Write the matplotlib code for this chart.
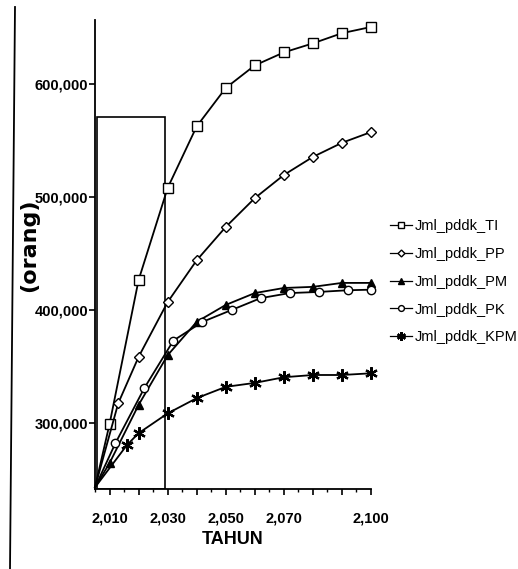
import matplotlib
matplotlib.use("Agg")
import matplotlib.pyplot as plt
from matplotlib import font_manager
from matplotlib.patches import Rectangle
from matplotlib.lines import Line2D
from matplotlib.ticker import FuncFormatter, MultipleLocator

# pick a narrow face if it is there, the scan uses tall condensed text
names = {f.name for f in font_manager.fontManager.ttflist}
NARROW = 'Liberation Sans Narrow' if 'Liberation Sans Narrow' in names else 'Liberation Sans'

# data (markers of each series sit at slightly offset years)
years_ti = [2005, 2010, 2020, 2030, 2040, 2050, 2060, 2070, 2080, 2090, 2100]
jml_ti = [243000, 299000, 426500, 508000, 562500, 596500, 616500, 628000, 636000, 645000, 650500]

years_pp = [2005, 2013, 2020, 2030, 2040, 2050, 2060, 2070, 2080, 2090, 2100]
jml_pp = [243000, 317500, 358500, 407000, 444000, 473500, 499000, 519500, 535500, 548000, 557500]

years_pm = [2005, 2010, 2020, 2030, 2040, 2050, 2060, 2070, 2080, 2090, 2100]
jml_pm = [243000, 264500, 316000, 360000, 389500, 404500, 415000, 419500, 420500, 424000, 424000]

years_pk = [2005, 2012, 2022, 2032, 2042, 2052, 2062, 2072, 2082, 2092, 2100]
jml_pk = [243000, 282000, 331000, 373000, 389500, 400000, 410500, 415000, 416000, 417500, 418000]

years_kpm = [2005, 2016, 2020, 2030, 2040, 2050, 2060, 2070, 2080, 2090, 2100]
jml_kpm = [243000, 280500, 291000, 308500, 322000, 332000, 335500, 340500, 342500, 342500, 344000]

labels = ['Jml_pddk_TI', 'Jml_pddk_PP', 'Jml_pddk_PM', 'Jml_pddk_PK', 'Jml_pddk_KPM']
xtick_labels = [2010, 2030, 2050, 2070, 2100]
yticks = [300000, 400000, 500000, 600000]

# hand drawn box on the scanned page (year range and top value)
box_x = (2005.6, 2029.2)
box_top = 570800

fig = plt.figure(figsize=(5.18, 5.69), dpi=100)
ax = fig.add_axes([0.1834, 0.1406, 0.5328, 0.8243])

styles = [
    dict(marker='s', ms=7, mfc='white'),
    dict(marker='D', ms=5, mfc='white'),
    dict(marker='^', ms=6, mfc='black'),
    dict(marker='o', ms=6, mfc='white'),
    dict(marker=(6, 2, 0), ms=9, mew=1.6),
]
all_years = [years_ti, years_pp, years_pm, years_pk, years_kpm]
all_vals = [jml_ti, jml_pp, jml_pm, jml_pk, jml_kpm]

handles = []
for xs, ys, style, lab in zip(all_years, all_vals, styles, labels):
    ax.plot(xs, ys, color='black', lw=1.3, mec='black',
            markevery=list(range(1, len(xs))), clip_on=False, **style)
    small = dict(style)
    small['ms'] = style['ms'] * 0.7
    handles.append(Line2D([], [], color='black', lw=0.9, mec='black', label=lab, **small))

ax.set_xlim(2005, 2100)
ax.set_ylim(241600, 656700)

ax.add_patch(Rectangle((box_x[0], 241600), box_x[1] - box_x[0], box_top - 241600,
                       fill=False, ec='black', lw=1.2, zorder=1))

for s in ['top', 'right']:
    ax.spines[s].set_visible(False)
for s in ['left', 'bottom']:
    ax.spines[s].set_linewidth(1.3)

ax.set_xticks(range(2010, 2101, 10))
ax.xaxis.set_minor_locator(MultipleLocator(5))
ax.set_xticklabels([f"{y:,}" if y in xtick_labels else '' for y in range(2010, 2101, 10)])
ax.set_yticks(yticks)
ax.yaxis.set_major_formatter(FuncFormatter(lambda v, p: f"{int(v):,}"))

ax.tick_params(axis='x', which='major', length=4, width=1.2, pad=12)
ax.tick_params(axis='x', which='minor', length=2, width=1)
ax.tick_params(axis='y', length=4, width=1.2, pad=1)
for t in ax.get_xticklabels() + ax.get_yticklabels():
    t.set_family([NARROW, 'DejaVu Sans'])
    t.set_fontsize(10.5)
    t.set_fontweight('bold')

ax.set_xlabel('TAHUN', fontsize=13, fontweight='bold', family=[NARROW, 'DejaVu Sans'], labelpad=4)
fig.text(29 / 518, 1 - 245 / 569, '(orang)', rotation=90, fontsize=16,
         fontweight='bold', ha='center', va='center')

fig.legend(handles=handles, loc='upper left', bbox_to_anchor=(390 / 518, 1 - 219 / 569),
           frameon=False, handlelength=1.5, handletextpad=0.2, numpoints=1,
           labelspacing=0.95, borderpad=0, borderaxespad=0,
           prop={'family': [NARROW, 'DejaVu Sans'], 'size': 10.5})

# scan border line at the left edge of the page
fig.add_artist(Line2D([15 / 518, 10 / 518], [1 - 7 / 569, 0], color='black', lw=1.3))

fig.savefig('out.png', dpi=100)
